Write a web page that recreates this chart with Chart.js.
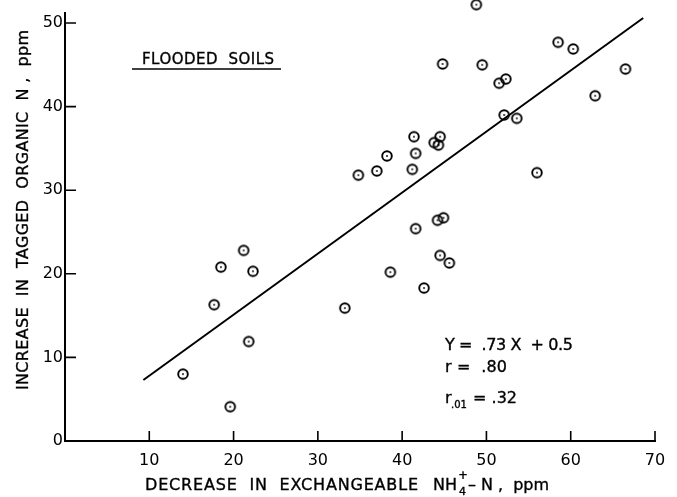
<!DOCTYPE html>
<html>
<head>
<meta charset="utf-8">
<script src="https://cdn.jsdelivr.net/npm/chart.js@4.4.1/dist/chart.umd.min.js"></script>
<style>
  html, body { margin: 0; padding: 0; background: #fff; }
  canvas { display: block; }
</style>
</head>
<body>
<canvas id="chartFlooded" width="677" height="497"></canvas>
<script>
// decrease in exchangeable NH4-N (x) vs increase in tagged organic N (y), ppm
const soilX = [48.8, 58.5, 60.3, 44.8, 49.5, 66.5, 52.3, 51.5, 62.9, 52.1, 53.6, 41.4,
               44.5, 43.8, 44.3, 38.2, 41.6, 37.0, 34.8, 41.2, 56.0, 41.6, 44.2, 44.9,
               44.5, 45.6, 38.6, 42.6, 33.2, 21.2, 18.5, 22.3, 17.7, 21.8, 14.0, 19.6];
const soilY = [52.2, 47.7, 46.9, 45.1, 45.0, 44.5, 43.3, 42.8, 41.3, 39.0, 38.6, 36.4,
               36.4, 35.7, 35.4, 34.1, 34.4, 32.3, 31.8, 32.5, 32.1, 25.4, 26.4, 26.7,
               22.2, 21.3, 20.2, 18.3, 15.9, 22.8, 20.8, 20.3, 16.3, 11.9, 8.0, 4.1];
// fitted line Y = .73 X + 0.5, end points as drawn
const fitX = [9.3, 68.6];
const fitY = [7.3, 50.6];
const xTicks = [10, 20, 30, 40, 50, 60, 70];
const yTicks = [0, 10, 20, 30, 40, 50];

const FONT = '"DejaVu Sans", sans-serif';

// ring with a dot in the middle
const marker = document.createElement('canvas');
marker.width = 14;
marker.height = 14;
(function() {
    const c = marker.getContext('2d');
    c.strokeStyle = '#000';
    c.lineWidth = 1.9;
    c.beginPath();
    c.arc(7, 7, 4.8, 0, Math.PI * 2);
    c.stroke();
    c.fillStyle = '#000';
    c.beginPath();
    c.arc(7, 7, 0.9, 0, Math.PI * 2);
    c.fill();
})();

// fit text to a width, a thin stroke gives the heavier lettering look
function spaced(ctx, text, x, y, width) {
    ctx.letterSpacing = '0px';
    const w = ctx.measureText(text).width;
    const n = Math.max(text.length - 1, 1);
    ctx.letterSpacing = ((width - w) / n) + 'px';
    ctx.fillText(text, x, y);
    ctx.strokeText(text, x, y);
    ctx.letterSpacing = '0px';
}

function plain(ctx, text, x, y) {
    ctx.fillText(text, x, y);
    ctx.strokeText(text, x, y);
}

const annotations = {
    id: 'annotations',
    afterDraw(chart) {
        const ctx = chart.ctx;
        const xs = chart.scales.x, ys = chart.scales.y;
        const area = chart.chartArea;
        ctx.save();
        ctx.strokeStyle = '#000';
        ctx.fillStyle = '#000';

        // inward tick marks
        ctx.lineWidth = 1.6;
        ctx.beginPath();
        xTicks.forEach(v => {
            const px = xs.getPixelForValue(v);
            ctx.moveTo(px, area.bottom);
            ctx.lineTo(px, area.bottom - 10);
        });
        yTicks.forEach(v => {
            if (v === 0) return;
            const py = ys.getPixelForValue(v);
            ctx.moveTo(area.left, py);
            ctx.lineTo(area.left + 11, py);
        });
        ctx.stroke();

        ctx.textAlign = 'left';
        ctx.textBaseline = 'alphabetic';
        ctx.lineWidth = 0.35;

        // x axis title
        ctx.font = '16px ' + FONT;
        spaced(ctx, 'DECREASE  IN  EXCHANGEABLE', 145, 490, 273);
        plain(ctx, 'NH', 433, 490);
        ctx.font = '11px ' + FONT;
        plain(ctx, '4', 459, 495);
        ctx.font = 'bold 12px ' + FONT;
        ctx.fillText('+', 458, 479);
        ctx.font = '16px ' + FONT;
        spaced(ctx, '\u2013 N ,  ppm', 468, 490, 81);

        // y axis title
        ctx.save();
        ctx.translate(28, 390);
        ctx.rotate(-Math.PI / 2);
        spaced(ctx, 'INCREASE  IN  TAGGED  ORGANIC  N ,  ppm', 0, 0, 360);
        ctx.restore();

        // panel label
        ctx.font = '15px ' + FONT;
        spaced(ctx, 'FLOODED  SOILS', 142, 64, 132);
        ctx.lineWidth = 1.4;
        ctx.beginPath();
        ctx.moveTo(132, 69);
        ctx.lineTo(281, 69);
        ctx.stroke();
        ctx.lineWidth = 0.35;

        // regression text
        ctx.font = '16px ' + FONT;
        spaced(ctx, 'Y =  .73 X  + 0.5', 445, 350, 128);
        spaced(ctx, 'r =  .80', 445, 372, 62);
        plain(ctx, 'r', 445, 403);
        ctx.font = '10px ' + FONT;
        plain(ctx, '.01', 451, 408);
        ctx.font = '16px ' + FONT;
        spaced(ctx, '= .32', 473, 403, 44);
        ctx.restore();
    }
};

const chartFlooded = new Chart(document.getElementById('chartFlooded'), {
    type: 'scatter',
    data: {
        datasets: [{
            label: 'Flooded soils',
            data: soilX.map((x, i) => ({ x: x, y: soilY[i] })),
            pointStyle: marker,
            radius: 5,
            hoverRadius: 12,
            borderWidth: 1,
            clip: false
        }, {
            label: 'Fit',
            type: 'line',
            data: fitX.map((x, i) => ({ x: x, y: fitY[i] })),
            borderColor: '#000',
            borderWidth: 2,
            pointRadius: 0,
            fill: false
        }]
    },
    options: {
        responsive: false,
        animation: false,
        events: [],
        layout: { padding: { left: 0, right: 22, top: 10, bottom: 0 } },
        plugins: {
            legend: { display: false },
            tooltip: { enabled: false }
        },
        scales: {
            x: {
                type: 'linear',
                min: 0,
                max: 70,
                afterBuildTicks: scale => { scale.ticks = xTicks.map(v => ({ value: v })); },
                afterFit: scale => { scale.height = 56; },
                grid: { display: false, drawTicks: false },
                border: { display: true, color: '#000', width: 2 },
                ticks: {
                    color: '#000',
                    padding: 10,
                    maxRotation: 0,
                    font: { family: FONT, size: 16 }
                }
            },
            y: {
                type: 'linear',
                min: 0,
                max: 51.2,
                afterBuildTicks: scale => { scale.ticks = yTicks.map(v => ({ value: v })); },
                afterFit: scale => { scale.width = 65; },
                grid: { display: false, drawTicks: false },
                border: { display: true, color: '#000', width: 2 },
                ticks: {
                    color: '#000',
                    padding: 2,
                    font: { family: FONT, size: 16 }
                }
            }
        }
    },
    plugins: [annotations]
});
</script>
</body>
</html>
